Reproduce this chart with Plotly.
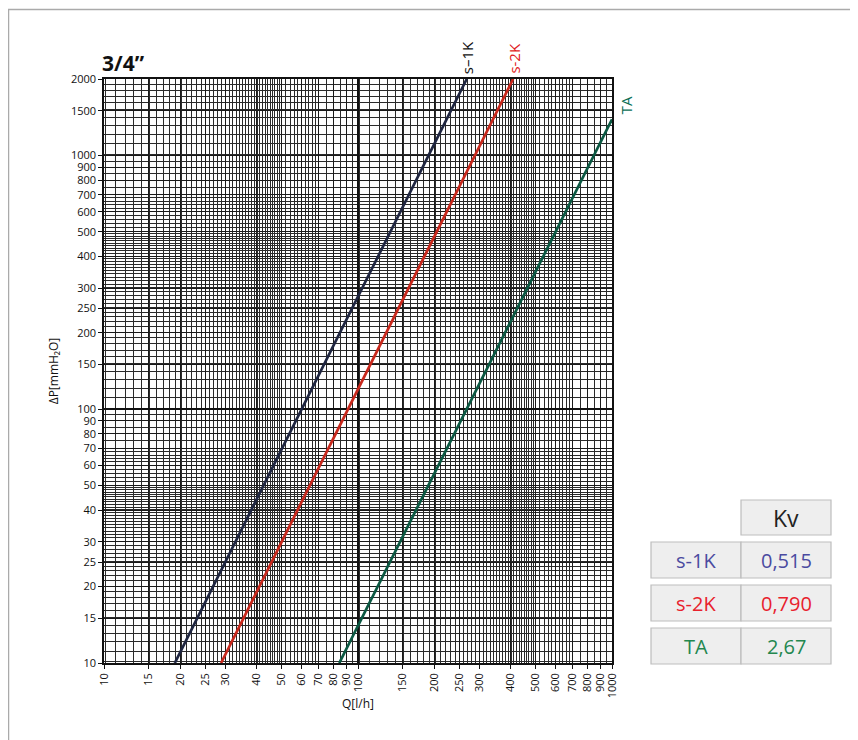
import math
import plotly.graph_objects as go

# ---- data ----
q_s1k = [19.0, 268.0]
dp_s1k = [10, 2000]
q_s2k = [28.9, 408.0]
dp_s2k = [10, 2000]
q_ta = [84.4, 1000.0]
dp_ta = [10, 1387]

x_ticks = [10, 15, 20, 25, 30, 40, 50, 60, 70, 80, 90, 100, 150, 200, 250, 300,
           400, 500, 600, 700, 800, 900, 1000]
y_ticks = [10, 15, 20, 25, 30, 40, 50, 60, 70, 80, 90, 100, 150, 200, 250, 300,
           400, 500, 600, 700, 800, 900, 1000, 1500, 2000]

table_names = ["s-1K", "s-2K", "TA"]
table_kv = ["0,515", "0,790", "2,67"]
table_colors = ["#4a4aa0", "#e8212c", "#23874f"]

line_colors = ["#1e2540", "#c9281c", "#0a5842"]
label_colors = ["#111111", "#e11b22", "#0a6e55"]


# ---- grid helpers (chart-paper style only) ----
def paper_lines(decades):
    vals = []
    for d in decades:
        vals += [d * v / 10 for v in range(101, 500, 10)]
        vals += [d * v / 10 for v in range(500, 700, 20)]
        vals += [d * v / 10 for v in range(700, 1000, 50)]
    return vals

x_minor = [v for v in paper_lines([1, 10]) if 10 < v < 1000]
y_minor = [v for v in paper_lines([1, 10, 100]) if 10 < v < 2000]

# page is offset by the 8px body margin -> work in figure pixels
OFF = 8
W, H = 858 - OFF, 740 - OFF
L, R, T, B = 104 - OFF, 612 - OFF, 79 - OFF, 663 - OFF


def px(xp):
    return (xp - OFF - L) / (R - L)


def py(yp):
    return (B - (yp - OFF)) / (B - T)


fig = go.Figure()
series = [("s–1K", q_s1k, dp_s1k), ("s-2K", q_s2k, dp_s2k), ("TA", q_ta, dp_ta)]
for i, (name, q, dp) in enumerate(series):
    fig.add_trace(go.Scatter(x=q, y=dp, mode="lines", name=name,
                             line=dict(color=line_colors[i], width=2.7),
                             showlegend=False, hoverinfo="skip"))
fig.add_trace(go.Scatter(x=[10], y=[10], xaxis="x2", yaxis="y2", mode="markers",
                         marker=dict(opacity=0), showlegend=False, hoverinfo="skip"))

font_family = "Open Sans, Noto Sans, sans-serif"
axis_common = dict(type="log", showline=True, linecolor="#111", linewidth=1.5,
                   mirror=True, ticks="outside", ticklen=4, tickcolor="#111",
                   gridcolor="#1a1a1a", gridwidth=1, zeroline=False,
                   tickfont=dict(size=11, color="#111", family=font_family))

fig.update_layout(
    width=W, height=H,
    margin=dict(l=L, r=W - R, t=T, b=H - B),
    paper_bgcolor="white", plot_bgcolor="white",
    xaxis=dict(**axis_common, range=[1, 3], tickmode="array", tickvals=x_ticks,
               ticktext=[str(v) for v in x_ticks], tickangle=-90,
               minor=dict(tickmode="array", tickvals=x_minor, showgrid=True,
                          gridcolor="#2a2a2a", gridwidth=1, ticks=""),
               title=dict(text="Q[l/h]", font=dict(size=12, color="#111", family=font_family),
                          standoff=2)),
    yaxis=dict(**axis_common, range=[1, math.log10(2000)], tickmode="array", tickvals=y_ticks,
               ticktext=[str(v) for v in y_ticks],
               minor=dict(tickmode="array", tickvals=y_minor, showgrid=True,
                          gridcolor="#2a2a2a", gridwidth=1, ticks=""),
               title=dict(text="ΔP[mmH₂O]", font=dict(size=12, color="#111", family=font_family),
                          standoff=10)),
    xaxis2=dict(type="log", range=[1, 3], overlaying="x", tickmode="array",
                tickvals=[100], showticklabels=False, showgrid=True,
                gridcolor="#111", gridwidth=2, zeroline=False, ticks=""),
    yaxis2=dict(type="log", range=[1, math.log10(2000)], overlaying="y", tickmode="array",
                tickvals=[100], showticklabels=False, showgrid=True,
                gridcolor="#111", gridwidth=2, zeroline=False, ticks=""),
    font=dict(family=font_family, color="#111"),
)

annotations = [
    dict(text="<b>3/4”</b>", xref="paper", yref="paper", x=px(100), y=py(79),
         xanchor="left", yanchor="bottom", showarrow=False,
         font=dict(size=21, color="#111", family="Open Sans, sans-serif")),
]
ends = [(q_s1k[-1], dp_s1k[-1], 0, 3), (q_s2k[-1], dp_s2k[-1], 0, 3), (q_ta[-1], dp_ta[-1], 14, 3)]
for i, (name, q, dp) in enumerate(series):
    ex, ey, xs, ys = ends[i]
    annotations.append(dict(text=name, x=math.log10(ex), y=math.log10(ey),
                            xref="x", yref="y", showarrow=False, textangle=-90,
                            xanchor="center", yanchor="bottom", xshift=xs, yshift=ys,
                            font=dict(size=15, color=label_colors[i], family=font_family)))

shapes = [
    dict(type="line", xref="paper", yref="paper", x0=px(8), x1=px(858), y0=py(9.5), y1=py(9.5),
         line=dict(color="#aaaaaa", width=1.5)),
    dict(type="line", xref="paper", yref="paper", x0=px(8.5), x1=px(8.5), y0=py(9.5), y1=py(740),
         line=dict(color="#aaaaaa", width=1.5)),
]

cell_fill = "#eeeeee"
cell_line = "#bdbdbd"
c0, c1, c2 = 651, 741, 831
shapes.append(dict(type="rect", xref="paper", yref="paper", x0=px(c1), x1=px(c2),
                   y0=py(535), y1=py(500), fillcolor=cell_fill, line=dict(color=cell_line, width=1.2)))
annotations.append(dict(text="Kv", xref="paper", yref="paper", x=px((c1 + c2) / 2), y=py(518),
                        xanchor="center", yanchor="middle", showarrow=False,
                        font=dict(size=23, color="#222", family=font_family)))
row_tops = [542, 585, 628]
row_h = 36
for i in range(len(table_names)):
    t = row_tops[i]
    for a, b in [(c0, c1), (c1, c2)]:
        shapes.append(dict(type="rect", xref="paper", yref="paper", x0=px(a), x1=px(b),
                           y0=py(t + row_h), y1=py(t), fillcolor=cell_fill,
                           line=dict(color=cell_line, width=1.2)))
    annotations.append(dict(text=table_names[i], xref="paper", yref="paper",
                            x=px((c0 + c1) / 2), y=py(t + row_h / 2), showarrow=False,
                            xanchor="center", yanchor="middle",
                            font=dict(size=20, color=table_colors[i], family=font_family)))
    annotations.append(dict(text=table_kv[i], xref="paper", yref="paper",
                            x=px((c1 + c2) / 2), y=py(t + row_h / 2), showarrow=False,
                            xanchor="center", yanchor="middle",
                            font=dict(size=20, color=table_colors[i], family=font_family)))

fig.update_layout(annotations=annotations, shapes=shapes)
fig.write_html("out.html")
